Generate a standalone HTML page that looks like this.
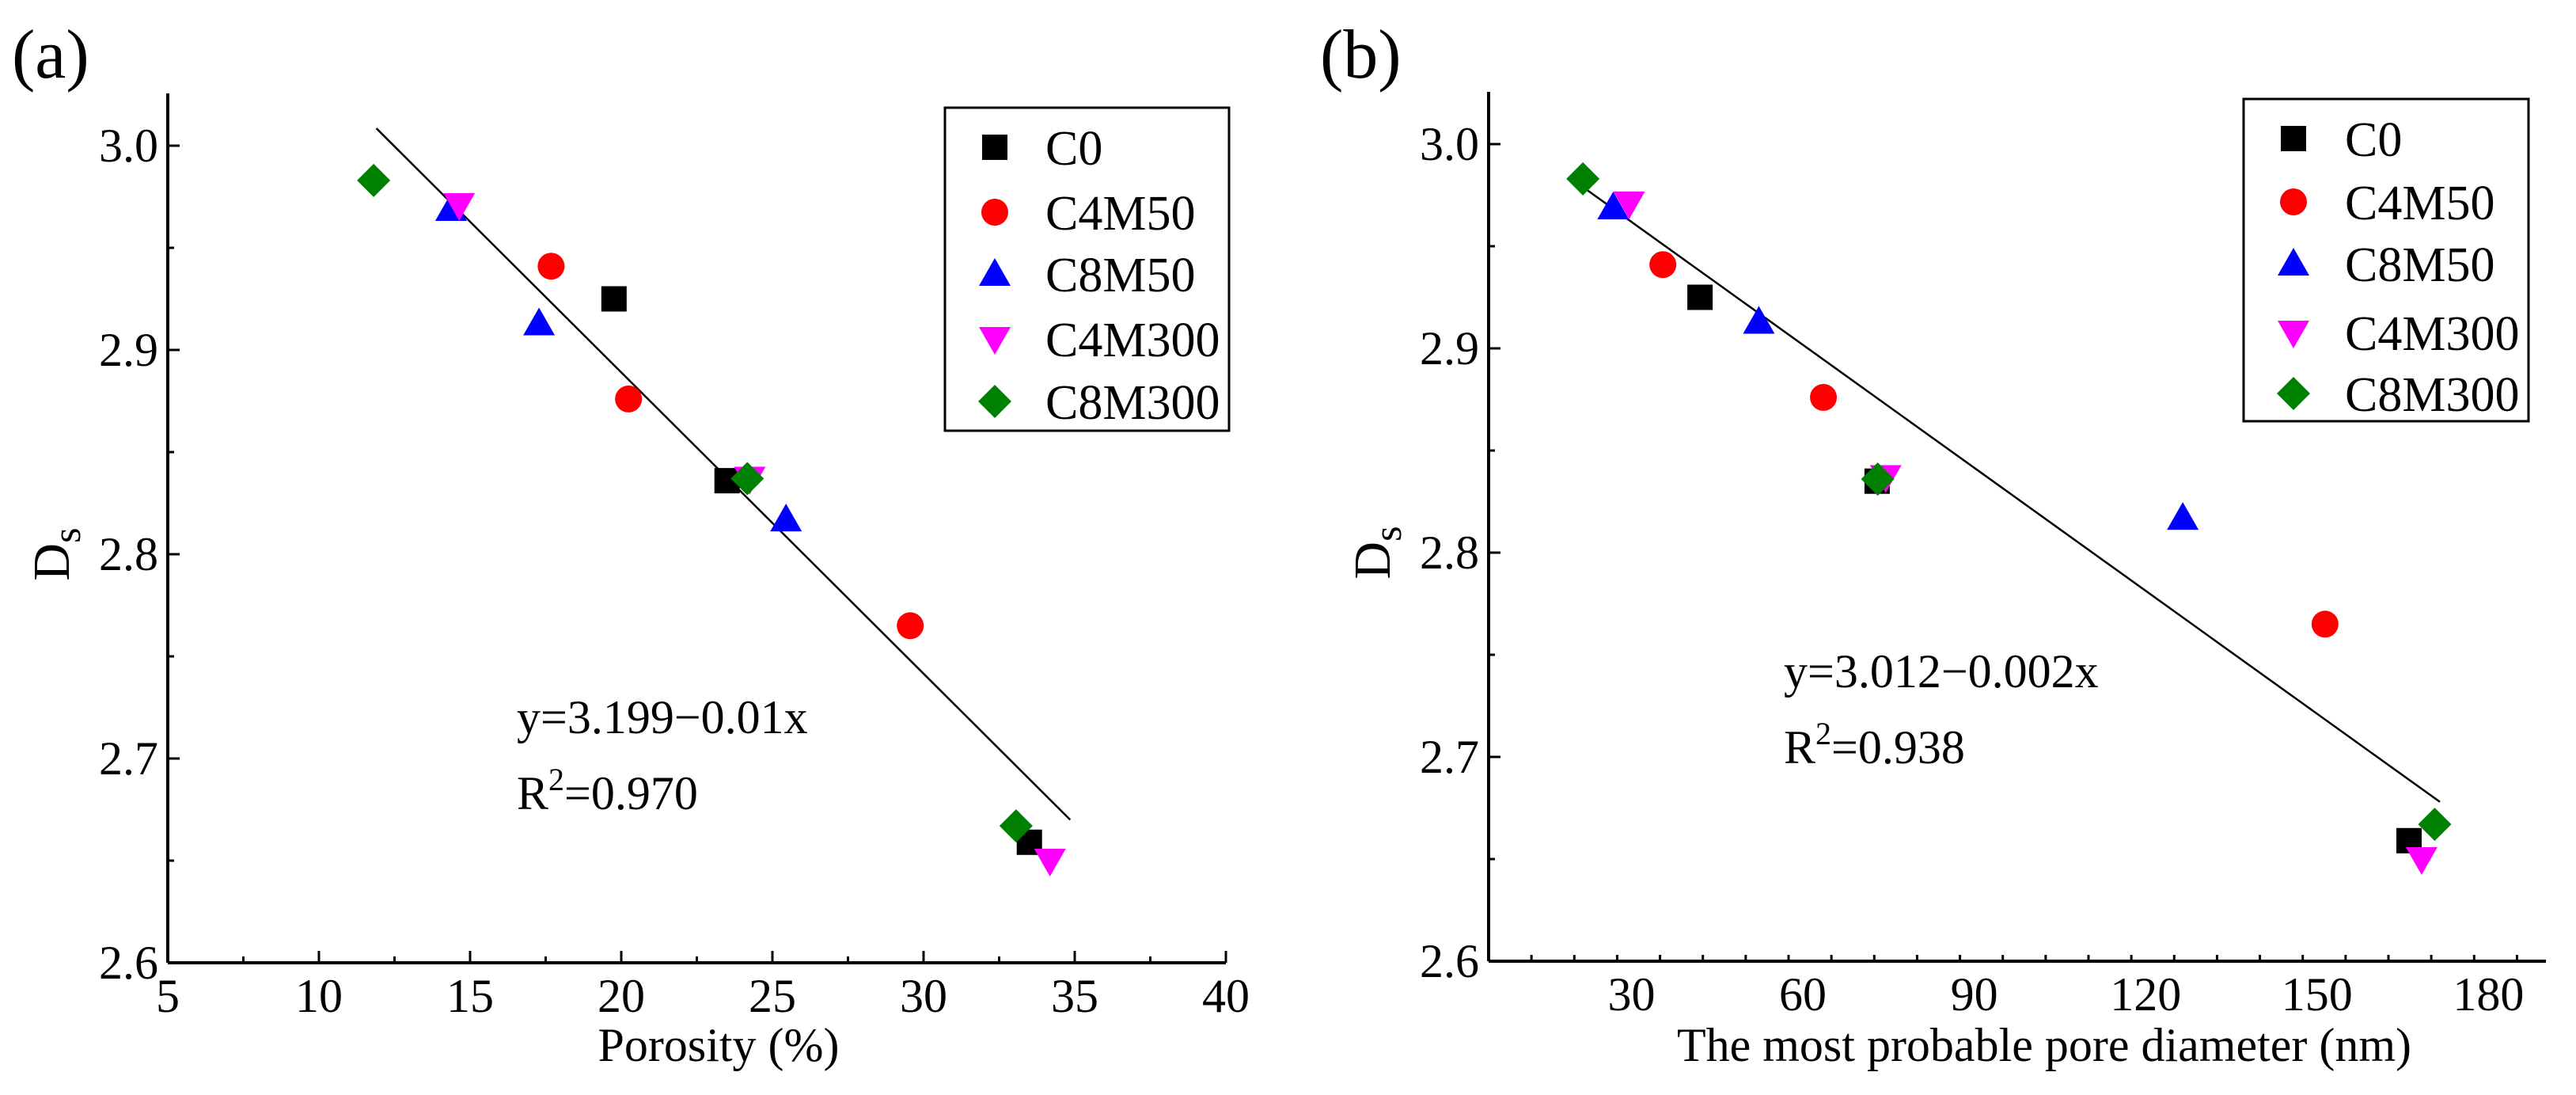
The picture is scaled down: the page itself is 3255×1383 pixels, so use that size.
<!DOCTYPE html>
<html><head><meta charset="utf-8"><style>
html,body{margin:0;padding:0;background:#fff}
svg, svg text{font-family:"Liberation Serif","Times New Roman",serif}
</style></head><body>
<svg id="fig" width="3255" height="1378" viewBox="0 0 3255 1378" font-family="Liberation Serif, serif">
<rect width="3255" height="1378" fill="#fff"/>
<text x="15" y="98" font-size="88" font-family="Liberation Serif, serif">(a)</text>
<text x="1668" y="98" font-size="88" font-family="Liberation Serif, serif">(b)</text>
<g id="pa"></g>
<g id="pb"></g>
</svg>
<script>
const seriesNames = ["C0","C4M50","C8M50","C4M300","C8M300"];
const seriesColors = ["#000","#f00","#00f","#f0f","#008000"];
const seriesShapes = ["square","circle","up","down","diamond"];
// Panel (a): porosity vs Ds
const aX = [[19.76,23.5,33.5],[17.68,20.24,29.56],[14.37,17.28,25.45],[14.64,24.25,34.18],[11.81,24.17,33.06]];
const aY = [[2.925,2.836,2.659],[2.941,2.876,2.765],[2.969,2.913,2.817],[2.971,2.837,2.650],[2.983,2.837,2.667]];
const aFitX = [11.9, 34.85];
const aFitY = [3.0085, 2.670];
const aXTicks = [5,10,15,20,25,30,35,40];
// Panel (b): most probable pore diameter vs Ds
const bX = [[42.0,73.0,166.1],[35.5,63.6,151.4],[26.8,52.3,126.5],[29.6,74.5,168.3],[21.5,73.1,170.6]];
const bY = [[2.925,2.835,2.659],[2.941,2.876,2.765],[2.969,2.913,2.817],[2.971,2.837,2.650],[2.983,2.836,2.667]];
const bFitX = [20.5, 171.5];
const bFitY = [2.981, 2.678];
const bXTicks = [30,60,90,120,150,180];
const yTicks = [2.6,2.7,2.8,2.9,3.0];

const NS="http://www.w3.org/2000/svg";
const FF="Liberation Serif, serif";
function mk(parent,tag,attrs,text){const e=document.createElementNS(NS,tag);for(const k in attrs)e.setAttribute(k,attrs[k]);if(tag==="text")e.setAttribute("font-family",FF);if(text!==undefined)e.textContent=text;parent.appendChild(e);return e;}
function marker(g,shape,cx,cy,color){
  let e;
  if(shape==="square")e=mk(g,"rect",{x:cx-16,y:cy-16,width:32,height:32,fill:color});
  else if(shape==="circle")e=mk(g,"circle",{cx:cx,cy:cy,r:17,fill:color});
  else if(shape==="up")e=mk(g,"polygon",{points:`${cx-20},${cy+15} ${cx+20},${cy+15} ${cx},${cy-20}`,fill:color});
  else if(shape==="down")e=mk(g,"polygon",{points:`${cx-20},${cy-15} ${cx+20},${cy-15} ${cx},${cy+20}`,fill:color});
  else e=mk(g,"polygon",{points:`${cx},${cy-21} ${cx+21},${cy} ${cx},${cy+21} ${cx-21},${cy}`,fill:color});
  return e;
}
function panel(g,cfg){
  const sx=v=>cfg.x0+(v-cfg.xmin)*(cfg.x1-cfg.x0)/(cfg.xmax-cfg.xmin);
  const sy=v=>cfg.y0-(v-2.6)*(cfg.y0-cfg.y3)/0.4;
  const ax=mk(g,"g",{});
  
  
  mk(ax,"line",{x1:cfg.x0,y1:cfg.y0,x2:cfg.xend,y2:cfg.y0,stroke:"#000","stroke-width":4});
  mk(ax,"line",{x1:cfg.x0,y1:cfg.y0,x2:cfg.x0,y2:cfg.ytop,stroke:"#000","stroke-width":4});
  for(let v=cfg.xmin;v<=cfg.xmaxTick+1e-9;v+=cfg.minor){
    const major=cfg.xticks.some(t=>Math.abs(t-v)<1e-6);
    mk(ax,"line",{x1:sx(v),y1:cfg.y0,x2:sx(v),y2:cfg.y0-(major?15:8),stroke:"#000","stroke-width":3});
  }
  cfg.xticks.forEach(t=>{const e=mk(ax,"text",{x:sx(t),y:cfg.y0+62,"font-size":60,"text-anchor":"middle"},String(t));
    
    });
  for(let v=2.6;v<=3.0251;v+=0.05){
    const major=Math.abs(v*10-Math.round(v*10))<1e-6;
    mk(ax,"line",{x1:cfg.x0,y1:sy(v),x2:cfg.x0+(major?15:8),y2:sy(v),stroke:"#000","stroke-width":3});
  }
  yTicks.forEach(t=>{const e=mk(ax,"text",{x:cfg.x0-12,y:sy(t)+20,"font-size":60,"text-anchor":"end"},t.toFixed(1));
    
    });
  const yt=mk(ax,"text",{transform:`translate(${cfg.x0-125},${(cfg.y0+cfg.y3)/2}) rotate(-90)`,"font-size":66,"text-anchor":"middle"});
  
  
  yt.innerHTML='D<tspan dy="14" font-size="50">s</tspan>';
  const xt=mk(ax,"text",{x:cfg.xtx,y:1340,"font-size":60,"text-anchor":"middle"},cfg.xtitle);
  
  
  const fl=mk(g,"line",{x1:sx(cfg.fitX[0]),y1:sy(cfg.fitY[0]),x2:sx(cfg.fitX[1]),y2:sy(cfg.fitY[1]),stroke:"#000","stroke-width":2.5});
  
  
  seriesNames.forEach((n,i)=>{
    cfg.X[i].forEach((xv,j)=>{
      const m=marker(g,seriesShapes[i],sx(xv),sy(cfg.Y[i][j]),seriesColors[i]);
      
      
    });
  });
  const eq=mk(g,"text",{x:cfg.eqx,y:cfg.eqy,"font-size":60},cfg.eq);
  
  
  const r2=mk(g,"text",{x:cfg.eqx,y:cfg.eqy+96,"font-size":60});
  
  
  r2.innerHTML='R<tspan dy="-24" font-size="40">2</tspan><tspan dy="24">='+cfg.r2+'</tspan>';
  const lg=mk(g,"g",{});
  
  
  mk(lg,"rect",{x:cfg.lx,y:cfg.ly,width:cfg.lw,height:cfg.lh,fill:"#fff",stroke:"#000","stroke-width":3});
  seriesNames.forEach((n,i)=>{
    const ry=cfg.rows[i];
    const le=mk(lg,"g",{});
    
    
    marker(le,seriesShapes[i],cfg.mx,ry,seriesColors[i]);
    mk(le,"text",{x:cfg.tx,y:ry+22,"font-size":62},n);
  });
}
panel(document.getElementById('pa'),{x0:212,x1:1549,xmin:5,xmax:40,xend:1549,xmaxTick:40,minor:2.5,xticks:aXTicks,
  y0:1216,y3:184,ytop:118,X:aX,Y:aY,fitX:aFitX,fitY:aFitY,xtitle:"Porosity  (%)",xtx:908,
  eq:"y=3.199\u22120.01x",r2:"0.970",eqx:653,eqy:926,
  lx:1194,ly:136,lw:359,lh:408,rows:[186,268,346,428,507],mx:1257,tx:1321});
panel(document.getElementById('pb'),{x0:1881,x1:2061+150*7.2222,xmin:5,xmax:180,xend:3217,xmaxTick:190,minor:7.5,xticks:bXTicks,
  y0:1214,y3:182,ytop:116,X:bX,Y:bY,fitX:bFitX,fitY:bFitY,xtitle:"The most probable pore diameter  (nm)",xtx:2583,
  eq:"y=3.012\u22120.002x",r2:"0.938",eqx:2254,eqy:868,
  lx:2835,ly:125,lw:360,lh:407,rows:[175,255,333,420,497],mx:2898,tx:2963});
</script>
</body></html>
